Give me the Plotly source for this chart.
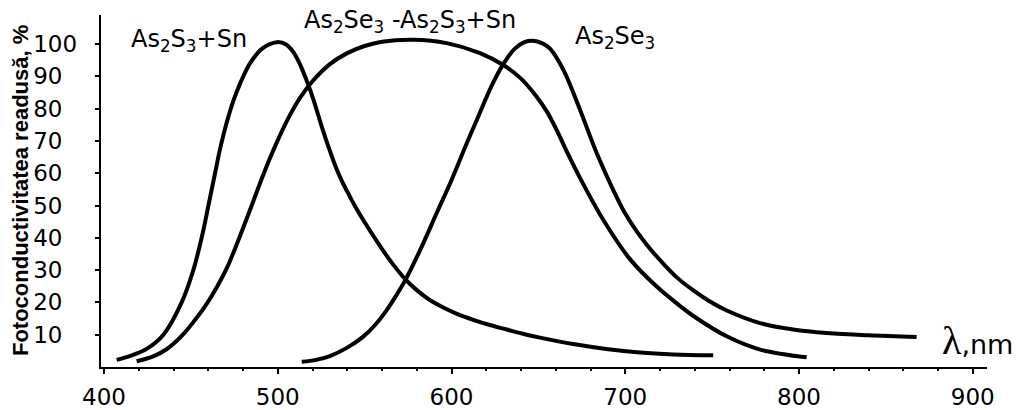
import plotly.graph_objects as go

# Wavelength (nm) and relative photoconductivity (%)
x_as2s3_sn = [407.3, 416, 424.5, 434.2, 444.7, 451.4, 456.2, 460.1, 463.9, 467, 470.5, 474.5,
              478.5, 484, 491, 499.6, 505, 509, 513, 517, 521, 525, 529, 533, 537, 541, 545,
              549.2, 558.8, 566, 573.2, 580, 587.6, 595, 602.5, 612.5, 622, 631.8, 641, 650.9,
              670, 689, 708.5, 727.6, 750.6]
y_as2s3_sn = [2.2, 3.6, 5.6, 10, 20, 30, 40, 50, 60, 68, 75.5, 82.5,
              88, 94, 98.6, 100.6, 99.8, 97.5, 93.5, 88.2, 82, 75, 68.5, 62.5, 57.5, 53.3, 49.3,
              45.5, 37.5, 32.0, 27.3, 23.8, 20.7, 18.5, 16.6, 14.6, 13.0, 11.6, 10.3, 9.1,
              7.1, 5.6, 4.5, 3.9, 3.6]

x_mix = [418.8, 428, 436, 445, 452, 459, 465, 471, 477.5, 485, 492, 499, 506, 513, 520, 530,
         540, 550, 560, 578, 597.2, 616.4, 629.8, 640, 649, 655, 660.5, 667, 674, 687.4, 702.7,
         718.1, 731.5, 739.2, 758.4, 777.6, 804.4]
y_mix = [1.8, 3.2, 5.5, 9.8, 14.3, 19.5, 24.8, 31, 39.5, 50, 60, 69, 77, 83.5, 88.5, 93.8,
         97.2, 99.4, 100.7, 101.3, 100.3, 97.2, 93.5, 89.3, 83.7, 79.0, 73.4, 66.0, 58.5, 45.5,
         33.4, 24.9, 18.9, 15.8, 9.5, 5.4, 3.0]

x_as2se3 = [513.8, 522, 530, 540, 549.2, 556, 562.7, 568, 573.8, 582.8, 591.4, 600.1, 608,
            616.4, 623, 629.8, 636.5, 642, 647, 652, 656.7, 664.4, 674, 683.6, 693.1, 700,
            706.6, 714, 721.9, 730, 739.2, 748, 758.4, 777.6, 796.7, 815.9, 840, 867.7]
y_as2se3 = [1.6, 2.2, 3.4, 6.0, 9.4, 13.0, 17.6, 22.0, 27.3, 37.2, 47.6, 58.0, 68.3,
            78.8, 87.0, 93.8, 98.6, 100.6, 101.0, 100.3, 98.6, 92, 79.6, 66.2, 54.8, 47.5,
            42.0, 36.8, 32.0, 27.6, 23.7, 20.5, 17.5, 13.6, 11.6, 10.5, 9.8, 9.3]

x_ticks = [400, 500, 600, 700, 800, 900]
y_ticks = [10, 20, 30, 40, 50, 60, 70, 80, 90, 100]
# no-break spaces: two-digit labels get the width of "100" (left-aligned look), plus a gap
y_tick_text = ["10\u00a0\u00a0\u00a0", "20\u00a0\u00a0\u00a0", "30\u00a0\u00a0\u00a0",
               "40\u00a0\u00a0\u00a0", "50\u00a0\u00a0\u00a0", "60\u00a0\u00a0\u00a0",
               "70\u00a0\u00a0\u00a0", "80\u00a0\u00a0\u00a0", "90\u00a0\u00a0\u00a0",
               "100\u00a0"]

labels = ["As<sub>2</sub>S<sub>3</sub>+Sn",
          "As<sub>2</sub>Se<sub>3</sub> -As<sub>2</sub>S<sub>3</sub>+Sn",
          "As<sub>2</sub>Se<sub>3</sub>"]
label_x = [448.9, 576.1, 694.1]
label_y = [101.2, 107.1, 102.0]

y_title = "Fotoconductivitatea readusă, %"

fig = go.Figure()
for xs, ys in [(x_as2s3_sn, y_as2s3_sn), (x_mix, y_mix), (x_as2se3, y_as2se3)]:
    fig.add_trace(go.Scatter(x=xs, y=ys, mode="lines",
                             line=dict(color="black", width=4, shape="spline", smoothing=1.0),
                             showlegend=False, hoverinfo="skip"))

for t, lx, ly in zip(labels, label_x, label_y):
    fig.add_annotation(x=lx, y=ly, xref="x", yref="y", text=t, showarrow=False,
                       xanchor="center", yanchor="middle",
                       font=dict(family="DejaVu Sans", size=24, color="black"))

fig.add_annotation(x=881.2, y=8.2, xref="x", yref="y",
                   text="<span style='font-family:Liberation Serif;font-size:40px'>λ</span>,nm",
                   showarrow=False, xanchor="left", yanchor="middle",
                   font=dict(family="DejaVu Sans", size=27, color="black"))

fig.add_annotation(x=-0.0914, y=0.5, xref="paper", yref="paper", text=y_title,
                   textangle=-90, showarrow=False, xanchor="center", yanchor="middle",
                   font=dict(family="Liberation Sans", size=22, color="black", weight="bold"))

fig.update_xaxes(range=[398.27, 908.2], tickvals=x_ticks, ticks="outside", ticklen=5,
                 tickwidth=1.5, tickcolor="black", showline=True, linewidth=2, linecolor="black",
                 showgrid=False, zeroline=False, ticklabelstandoff=3, automargin=False,
                 tickfont=dict(family="DejaVu Sans", size=23, color="black"),
                 minor=dict(dtick=20, tick0=400, ticks="outside", ticklen=2, tickwidth=1.5,
                            tickcolor="black", showgrid=False))
fig.update_yaxes(range=[0, 109], tickvals=y_ticks, ticktext=y_tick_text, ticks="outside",
                 ticklen=4, tickwidth=1.5, tickcolor="black", showline=True, linewidth=2,
                 linecolor="black", showgrid=False, zeroline=False, ticklabelstandoff=6,
                 automargin=False,
                 tickfont=dict(family="DejaVu Sans", size=23, color="black"))

fig.update_layout(width=1021, height=410, margin=dict(l=101, r=34, t=15, b=43),
                  plot_bgcolor="white", paper_bgcolor="white")

fig.write_html("out.html", config={"displayModeBar": False},
               post_script="document.body.style.margin='0';")
